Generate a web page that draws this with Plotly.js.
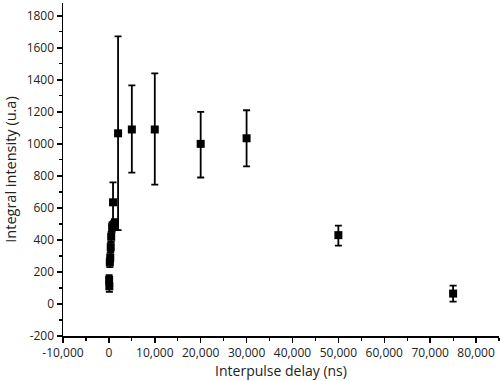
<!DOCTYPE html>
<html><head><meta charset="utf-8">
<script src="https://cdn.plot.ly/plotly-3.0.1.min.js"></script>
<style>html,body{margin:0;padding:0;background:#fff}#c{width:500px;height:381px}</style>
</head><body><div id="c"></div>
<script>
const delay = [50, 100, 200, 300, 400, 500, 700, 900, 1200, 2000, 5000, 10000, 20000, 30000, 50000, 75000];
const intensity = [150, 110, 260, 290, 355, 420, 480, 635, 500, 1066, 1090, 1090, 1000, 1035, 430, 65];
const errPlus = [30, 35, 30, 30, 30, 30, 30, 125, 30, 605, 275, 350, 200, 175, 60, 50];
const errMinus = [30, 35, 30, 30, 30, 30, 30, 120, 30, 605, 270, 345, 210, 175, 65, 50];
const xTickVals = [-10000, 0, 10000, 20000, 30000, 40000, 50000, 60000, 70000, 80000];
const xTickText = ['-10,000', '0', '10,000', '20,000', '30,000', '40,000', '50,000', '60,000', '70,000', '80,000'];
const yTickVals = [-200, 0, 200, 400, 600, 800, 1000, 1200, 1400, 1600, 1800];
const yTickText = ['-200', '0', '200', '400', '600', '800', '1000', '1200', '1400', '1600', '1800'];

const trace = {
  x: delay, y: intensity, type: 'scatter', mode: 'markers',
  marker: {symbol: 'square', size: 8, color: '#000'},
  error_y: {type: 'data', array: errPlus, arrayminus: errMinus, visible: true, color: '#000', thickness: 1.8, width: 3.5},
  cliponaxis: false
};
const fam = 'Open Sans, Noto Sans, sans-serif';
const tickFont = {family: fam, size: 12, color: '#222'};
const layout = {
  width: 500, height: 381,
  margin: {l: 63, r: 1, t: 3, b: 45},
  paper_bgcolor: '#fff', plot_bgcolor: '#fff',
  showlegend: false,
  xaxis: {
    range: [-10000, 85000], tickmode: 'array', tickvals: xTickVals, ticktext: xTickText,
    showgrid: false, zeroline: false,
    showline: true, linecolor: '#000', linewidth: 1.5,
    ticks: 'outside', ticklen: 5, tickwidth: 1.5, tickcolor: '#000',
    minor: {dtick: 5000, tick0: 0, ticks: 'outside', ticklen: 3, tickcolor: '#000', tickwidth: 1.2, showgrid: false},
    tickfont: tickFont,
    title: {text: 'Interpulse delay (ns)', font: {family: fam, size: 14, color: '#222'}, standoff: 6}
  },
  yaxis: {
    range: [-200, 1880], tickmode: 'array', tickvals: yTickVals, ticktext: yTickText,
    showgrid: false, zeroline: false,
    showline: true, linecolor: '#000', linewidth: 1.5,
    ticks: 'outside', ticklen: 5, tickwidth: 1.5, tickcolor: '#000',
    minor: {dtick: 100, tick0: 0, ticks: 'outside', ticklen: 3, tickcolor: '#000', tickwidth: 1.2, showgrid: false},
    tickfont: tickFont,
    title: {text: 'Integral intensity (u.a)', font: {family: fam, size: 14.5, color: '#222'}, standoff: 6}
  }
};
Plotly.newPlot('c', [trace], layout, {displayModeBar: false, staticPlot: true});
</script></body></html>
